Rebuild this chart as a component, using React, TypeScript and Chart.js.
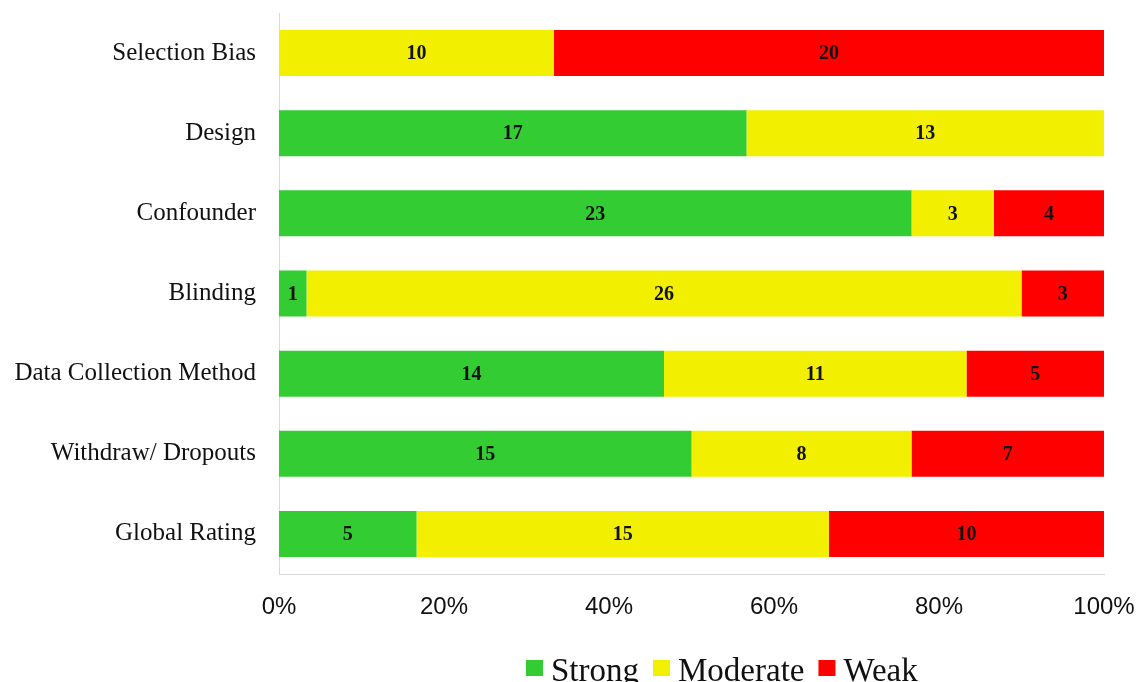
import React, { useEffect, useRef } from "react";
import { Chart, registerables } from "chart.js";

Chart.register(...registerables);

// Quality assessment ratings per component (number of studies out of 30)
const categories = [
  "Selection Bias",
  "Design",
  "Confounder",
  "Blinding",
  "Data Collection Method",
  "Withdraw/ Dropouts",
  "Global Rating",
];
const strongCounts = [0, 17, 23, 1, 14, 15, 5];
const moderateCounts = [10, 13, 3, 26, 11, 8, 15];
const weakCounts = [20, 0, 4, 3, 5, 7, 10];
const totalStudies = 30;
const xTickLabels = ["0%", "20%", "40%", "60%", "80%", "100%"];

const GREEN = "#33CC33";
const YELLOW = "#F2F000";
const RED = "#FF0000";

const WIDTH = 1137;
const HEIGHT = 682;

// Writes each non-zero count in the middle of its segment
const segmentLabels = {
  id: "segmentLabels",
  afterDatasetsDraw(chart: any) {
    const ctx = chart.ctx;
    ctx.save();
    ctx.font = "bold 20px 'Liberation Serif', 'Times New Roman', serif";
    ctx.fillStyle = "#111";
    ctx.textAlign = "center";
    ctx.textBaseline = "middle";
    chart.data.datasets.forEach((ds: any, di: number) => {
      const meta = chart.getDatasetMeta(di);
      meta.data.forEach((bar: any, i: number) => {
        const v = ds.data[i];
        if (!v) return;
        const p = bar.getCenterPoint();
        ctx.fillText(String(v), p.x, p.y + 1);
      });
    });
    ctx.restore();
  },
};

// Bottom legend: square swatch followed by the series name
const bottomLegend = {
  id: "bottomLegend",
  afterDraw(chart: any) {
    const ctx = chart.ctx;
    ctx.save();
    ctx.font = "33px 'Liberation Serif', 'Times New Roman', serif";
    ctx.textBaseline = "alphabetic";
    ctx.textAlign = "left";
    let x = 526;
    const baseline = 681;
    chart.data.datasets.forEach((ds: any) => {
      ctx.fillStyle = ds.backgroundColor;
      ctx.fillRect(x, 660, 17, 16);
      ctx.fillStyle = "#111";
      ctx.fillText(ds.label, x + 25, baseline);
      x += 25 + ctx.measureText(ds.label).width + 14;
    });
    ctx.restore();
  },
};

export default function App() {
  const ref = useRef<HTMLCanvasElement | null>(null);

  useEffect(() => {
    if (!ref.current) return;
    const chart = new Chart(ref.current, {
      type: "bar",
      data: {
        labels: categories,
        datasets: [
          { label: "Strong", data: strongCounts, backgroundColor: GREEN },
          { label: "Moderate", data: moderateCounts, backgroundColor: YELLOW },
          { label: "Weak", data: weakCounts, backgroundColor: RED },
        ],
      },
      options: {
        indexAxis: "y",
        responsive: false,
        animation: false,
        layout: { padding: { top: 13, right: 33, left: 0, bottom: 0 } },
        datasets: {
          bar: { barPercentage: 0.574, categoryPercentage: 1, borderWidth: 0 },
        },
        plugins: {
          legend: { display: false },
          tooltip: { enabled: false },
        },
        scales: {
          x: {
            stacked: true,
            min: 0,
            max: totalStudies,
            grid: { display: false },
            border: { display: true, color: "#d9d9d9", width: 1 },
            ticks: {
              stepSize: totalStudies / (xTickLabels.length - 1),
              padding: 11,
              color: "#111",
              font: { family: "'Liberation Sans', Arial, sans-serif", size: 24 },
              callback: (_v: any, i: number) => xTickLabels[i],
            },
            afterFit: (scale: any) => {
              scale.height = 108;
              scale.paddingLeft = 0;
              scale.paddingRight = 0;
            },
          },
          y: {
            stacked: true,
            grid: { display: false },
            border: { display: true, color: "#d9d9d9", width: 1 },
            ticks: {
              padding: 15,
              color: "#111",
              font: { family: "'Liberation Serif', 'Times New Roman', serif", size: 25 },
            },
            afterFit: (scale: any) => {
              scale.width = 279;
              scale.paddingTop = 0;
              scale.paddingBottom = 0;
            },
          },
        },
      },
      plugins: [segmentLabels, bottomLegend],
    });
    return () => chart.destroy();
  }, []);

  return (
    <div style={{ position: "absolute", left: 0, top: 0, width: WIDTH, height: HEIGHT, background: "#fff" }}>
      <canvas ref={ref} width={WIDTH} height={HEIGHT} />
    </div>
  );
}
